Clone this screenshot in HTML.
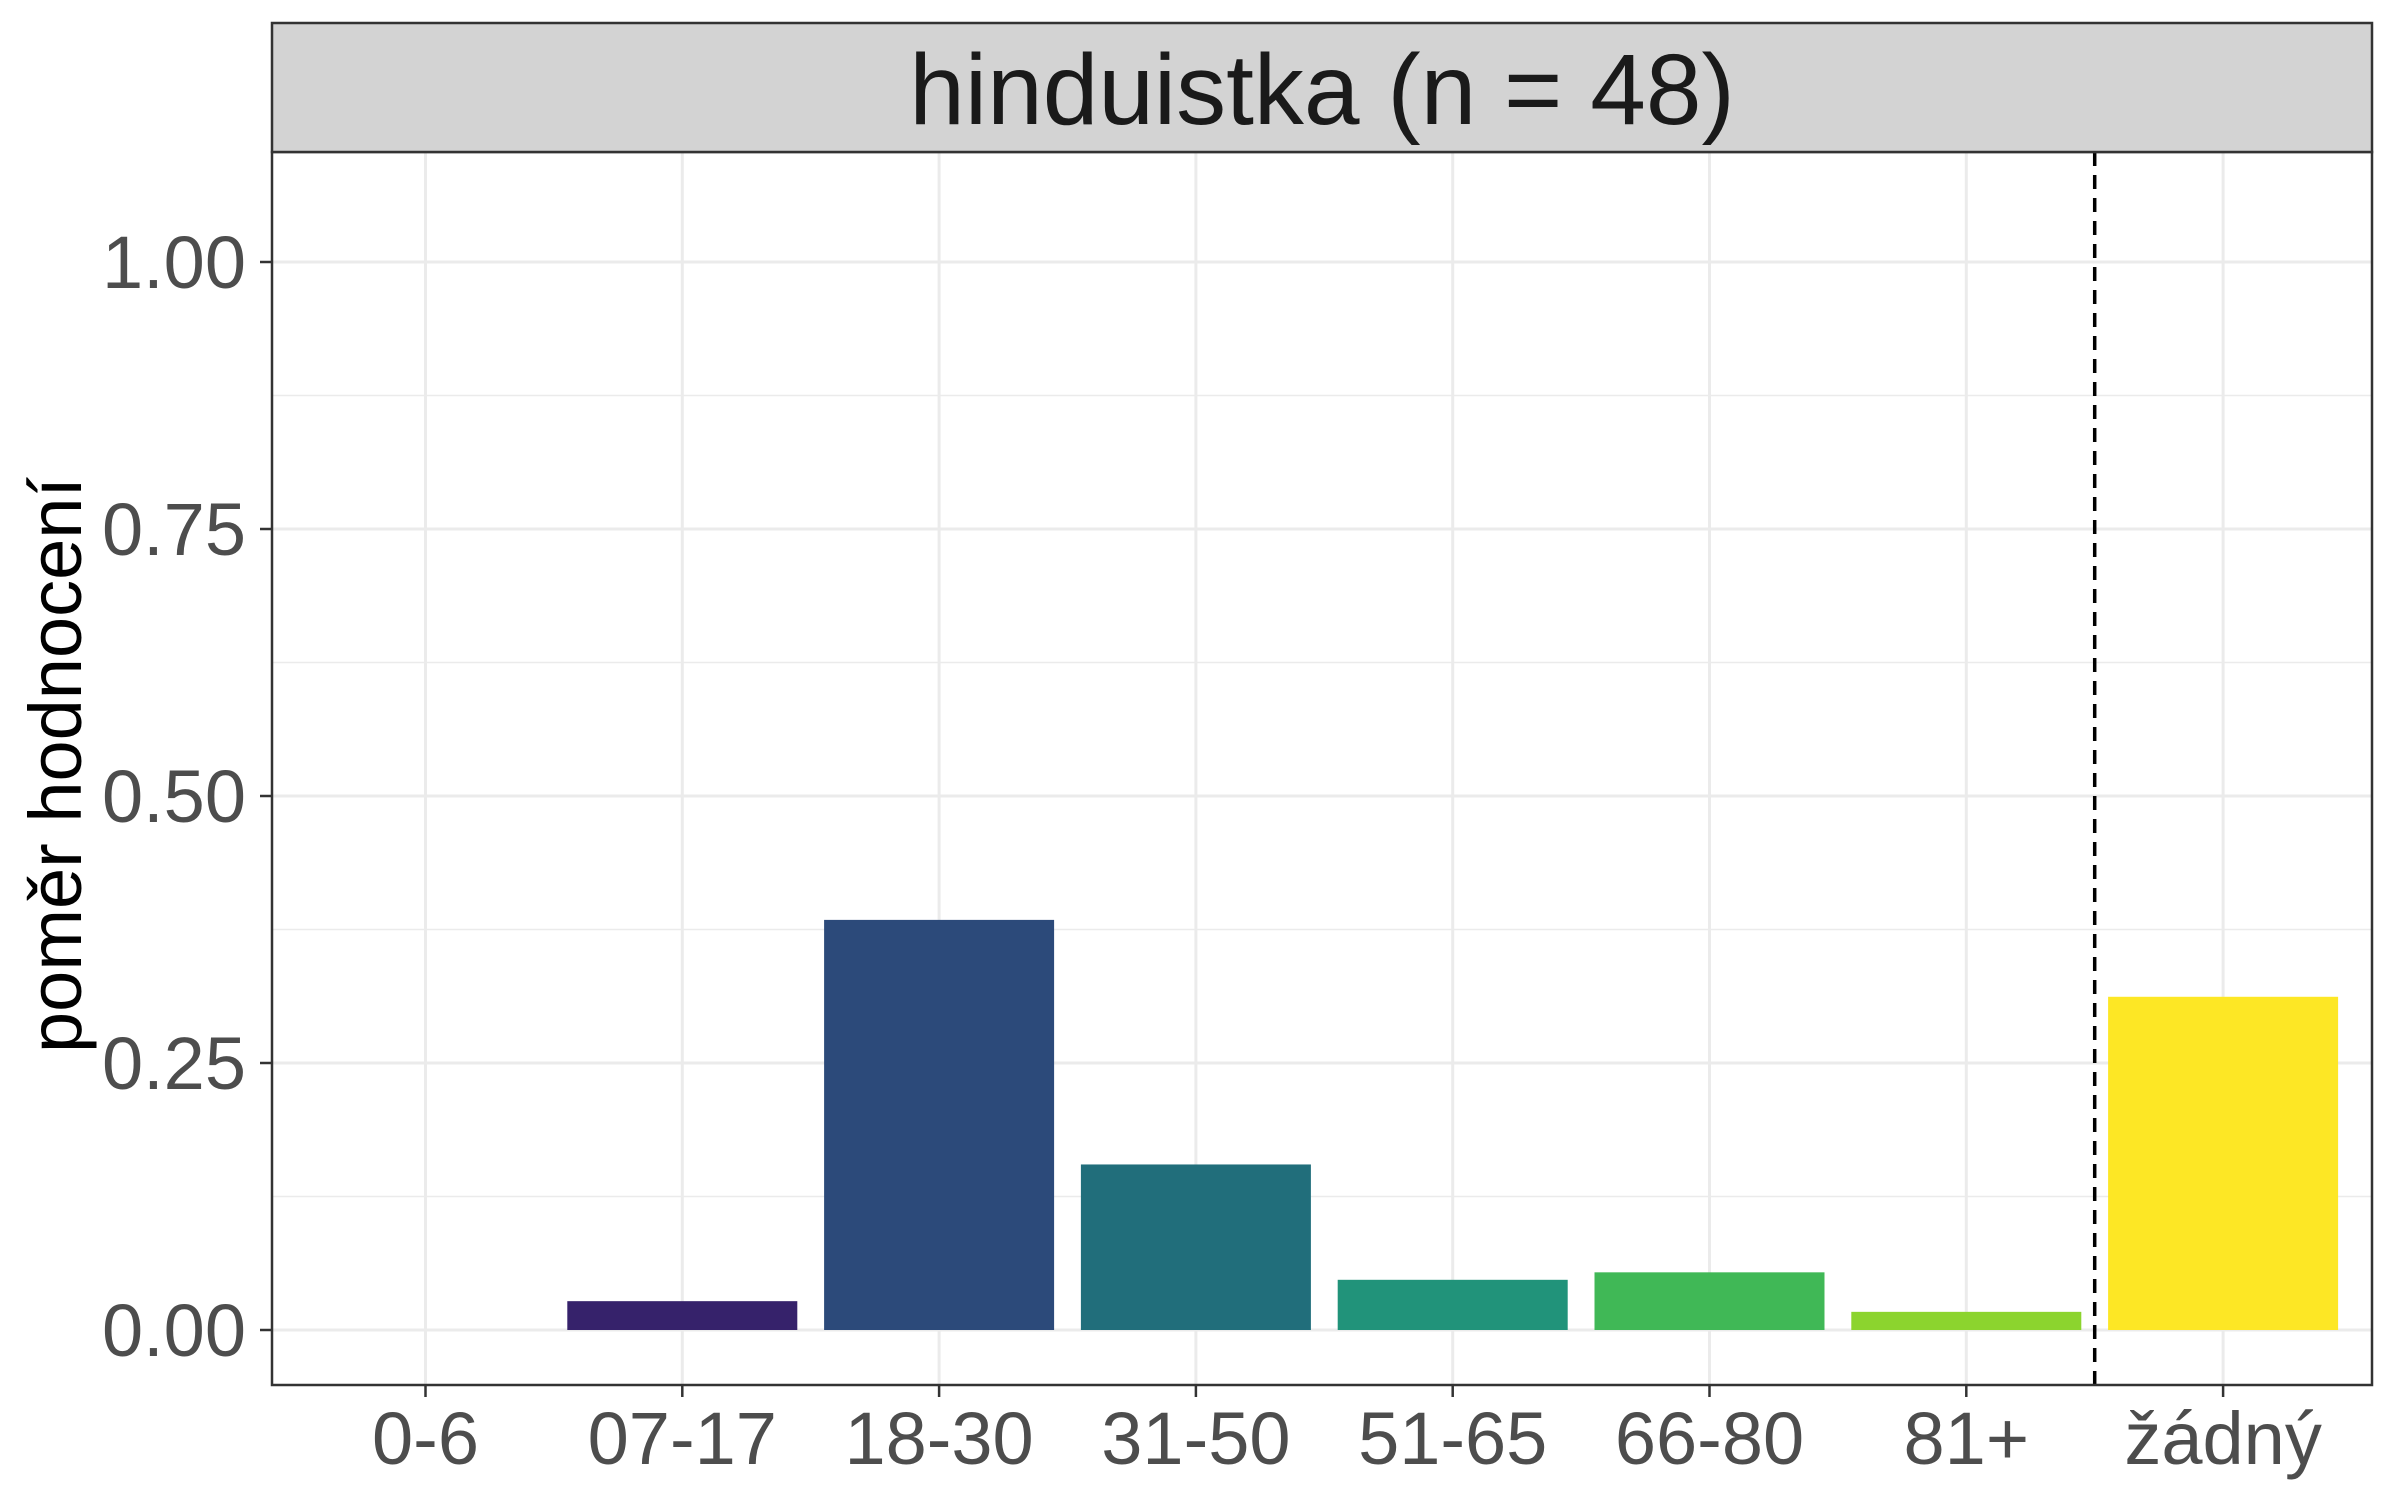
<!DOCTYPE html>
<html><head><meta charset="utf-8"><style>
body{margin:0;background:#fff;}
svg text{font-family:"Liberation Sans",sans-serif;}
</style></head><body>
<svg id="chart" width="2400" height="1500" xmlns="http://www.w3.org/2000/svg">
<rect x="0" y="0" width="2400" height="1500" fill="#fff"/>
<g id="grid"></g>
<g id="bars"></g>
<g id="axes"></g>
</svg>
<script>
const categories = ["0-6","07-17","18-30","31-50","51-65","66-80","81+","žádný"];
const values = [0,0.027,0.384,0.155,0.047,0.054,0.017,0.312];
const colors = ["#440154","#36226b","#2c4a7a","#216e7b","#21937a","#40b856","#8cd42e","#fde725"];
const yTicks = [0,0.25,0.5,0.75,1.0];
const yTickLabels = ["0.00","0.25","0.50","0.75","1.00"];
const title = "hinduistka (n = 48)";

const NS="http://www.w3.org/2000/svg";
const L=272,R=2372,T=23,SB=152,B=1385;
const y0=1330,y1=262;
const step=256.8, x0c=425.5, bw=230;
function xs(i){return x0c+i*step;}
function ys(v){return y0-(y0-y1)*v;}
function mk(tag,attrs,parent){const e=document.createElementNS(NS,tag);for(const k in attrs)e.setAttribute(k,attrs[k]);parent.appendChild(e);return e;}
const grid=document.getElementById('grid'),bars=document.getElementById('bars'),axes=document.getElementById('axes');
for(let i=0;i<yTicks.length-1;i++){
  const v=(yTicks[i]+yTicks[i+1])/2;
  const l=mk('line',{x1:L,x2:R,y1:ys(v),y2:ys(v),stroke:'#ebebeb','stroke-width':1.5},grid);
  
  
}
yTicks.forEach((v,i)=>{
  const l=mk('line',{x1:L,x2:R,y1:ys(v),y2:ys(v),stroke:'#ebebeb','stroke-width':3},grid);
  
  
  const t=mk('line',{x1:L-12,x2:L,y1:ys(v),y2:ys(v),stroke:'#333','stroke-width':2.5},axes);
  
  
  const tx=mk('text',{x:L-26,y:ys(v)+26,'text-anchor':'end','font-size':74,fill:'#4d4d4d'},axes);
  tx.textContent=yTickLabels[i];
  
  
});
categories.forEach((c,i)=>{
  const l=mk('line',{x1:xs(i),x2:xs(i),y1:SB,y2:B,stroke:'#ebebeb','stroke-width':3},grid);
  
  
  if(values[i]>0){
    const r=mk('rect',{x:xs(i)-bw/2,y:ys(values[i]),width:bw,height:ys(0)-ys(values[i]),fill:colors[i]},bars);
    
    
  }
  const t=mk('line',{x1:xs(i),x2:xs(i),y1:B,y2:B+12,stroke:'#333','stroke-width':2.5},axes);
  
  
  const tx=mk('text',{x:xs(i),y:1464,'text-anchor':'middle','font-size':74,fill:'#4d4d4d'},axes);
  tx.textContent=c;
  
  
});
const dx=(xs(6)+xs(7))/2;
const d=mk('line',{x1:dx,x2:dx,y1:SB,y2:B,stroke:'#000','stroke-width':3.5,'stroke-dasharray':'14 9'},axes);


const pb=mk('rect',{x:L,y:SB,width:R-L,height:B-SB,fill:'none',stroke:'#333','stroke-width':2.5},axes);


const st=mk('rect',{x:L,y:T,width:R-L,height:SB-T,fill:'#d3d3d3',stroke:'#333','stroke-width':2.5},axes);


const tt=mk('text',{x:(L+R)/2,y:124,'text-anchor':'middle','font-size':100,fill:'#1a1a1a'},axes);
tt.textContent=title;


const yt=mk('text',{x:0,y:0,'text-anchor':'middle','font-size':74,fill:'#000',transform:'translate(81,765) rotate(-90)'},axes);
yt.textContent='poměr hodnocení';


</script>
</body></html>
